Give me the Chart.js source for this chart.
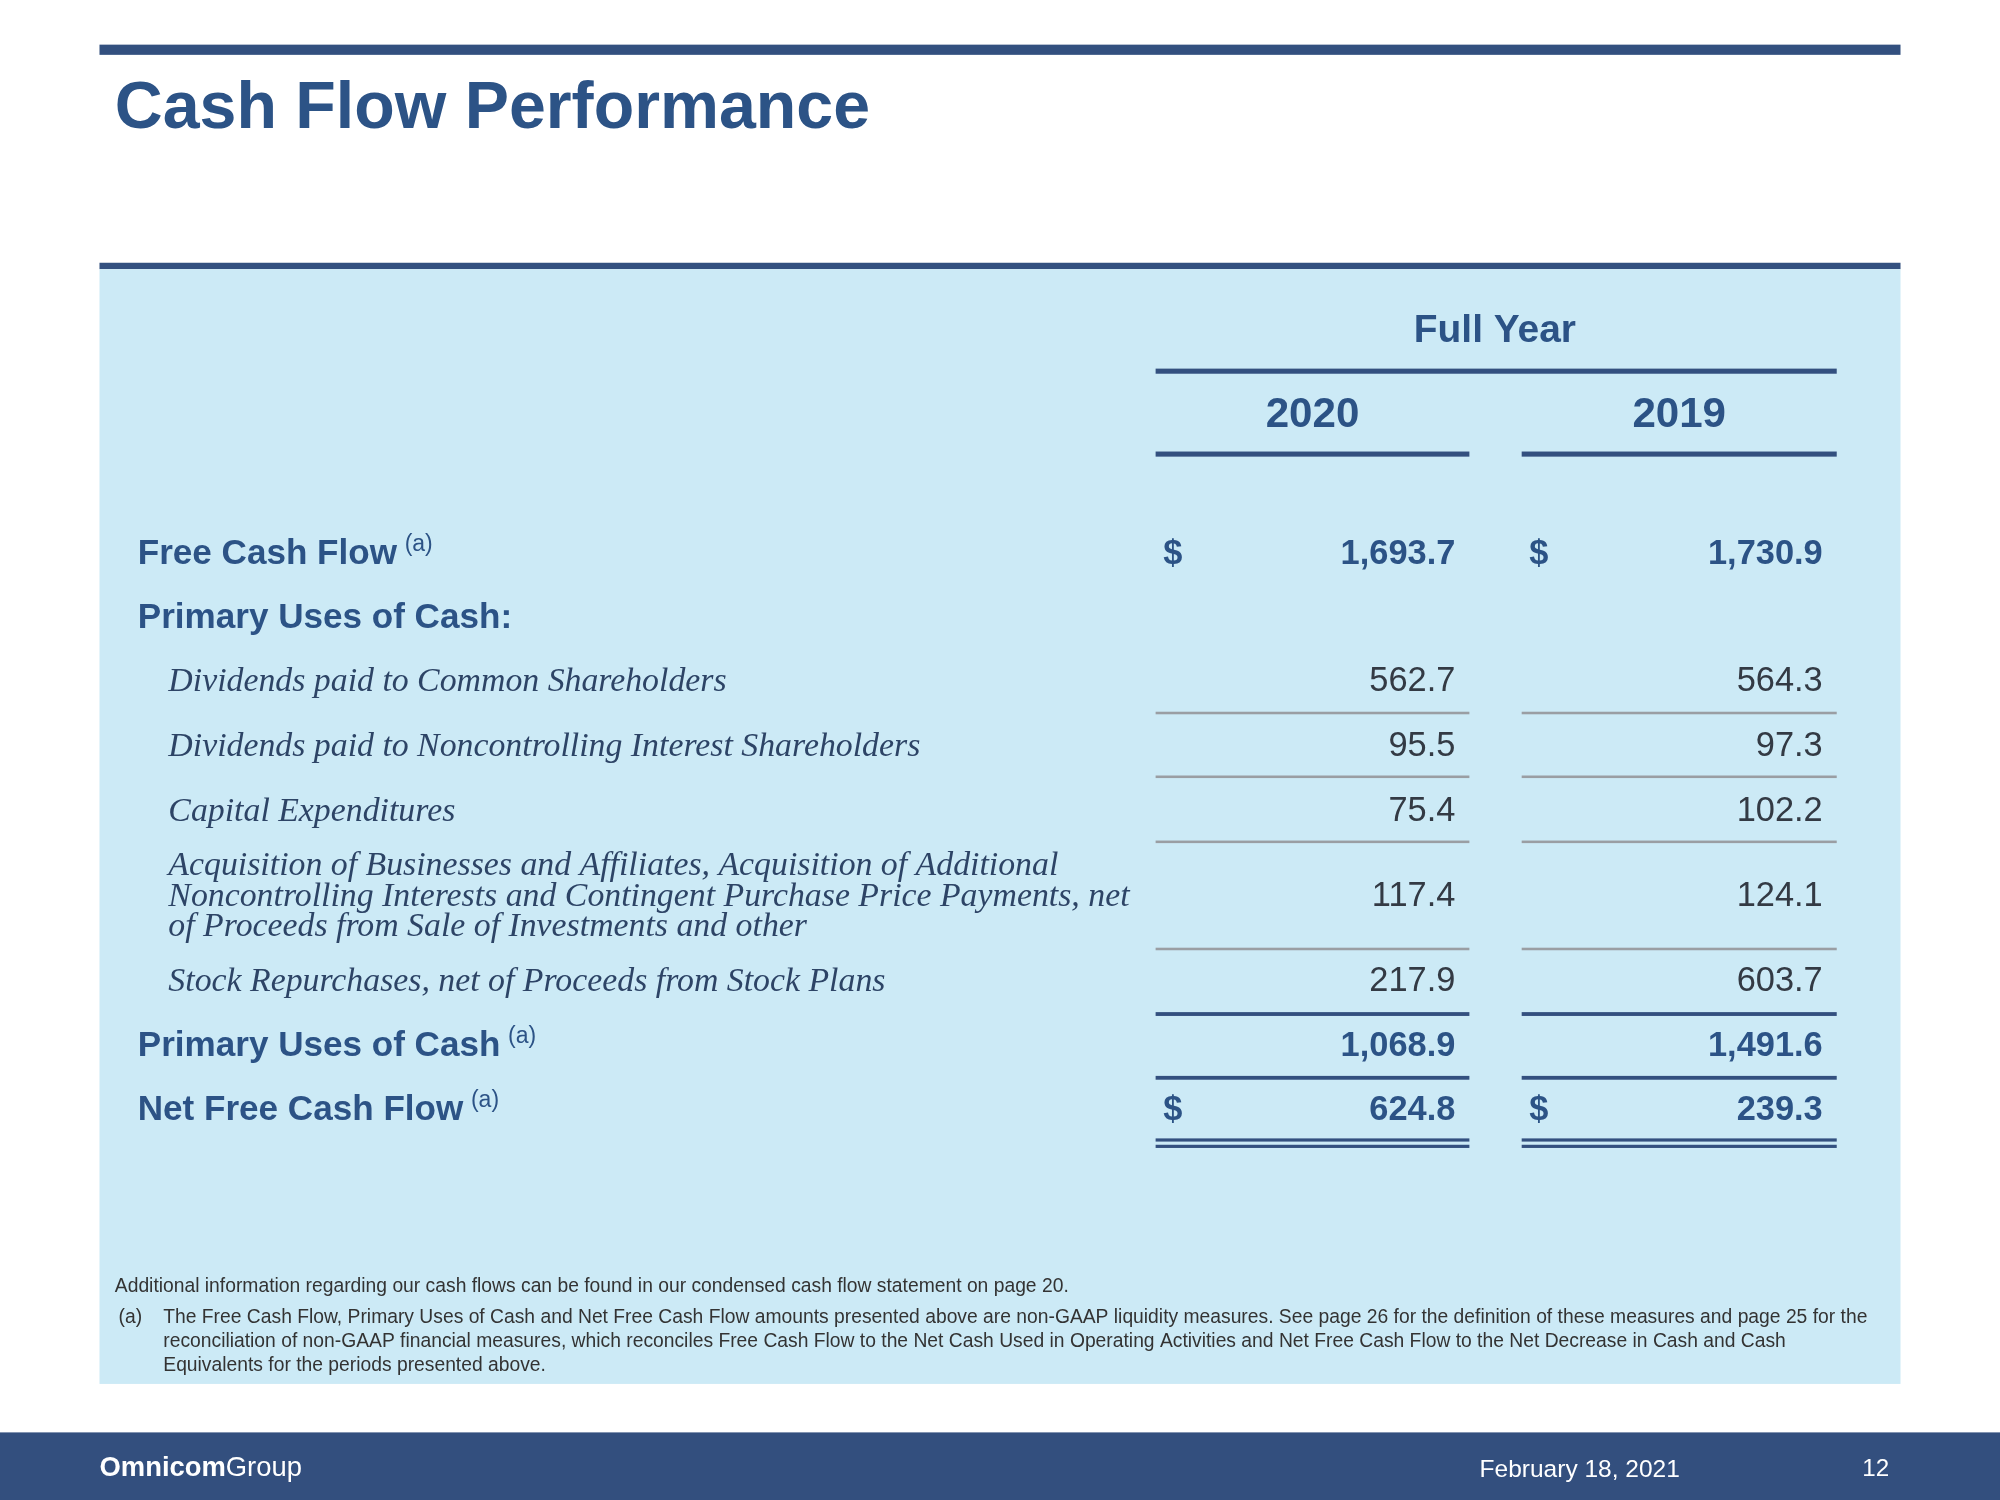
<!DOCTYPE html>
<html>
<head>
<meta charset="utf-8">
<script src="https://cdn.jsdelivr.net/npm/chart.js@4"></script>
<style>
  html, body { margin: 0; padding: 0; background: #fff; }
  canvas { display: block; }
</style>
</head>
<body>
<canvas id="page" width="2000" height="1500"></canvas>
<script>
// data
const title = 'Cash Flow Performance';
const groupHeader = 'Full Year';
const years = ['2020', '2019'];
const rowLabels = [
  'Free Cash Flow',
  'Primary Uses of Cash:',
  'Dividends paid to Common Shareholders',
  'Dividends paid to Noncontrolling Interest Shareholders',
  'Capital Expenditures',
  ['Acquisition of Businesses and Affiliates, Acquisition of Additional',
   'Noncontrolling Interests and Contingent Purchase Price Payments, net',
   'of Proceeds from Sale of Investments and other'],
  'Stock Repurchases, net of Proceeds from Stock Plans',
  'Primary Uses of Cash',
  'Net Free Cash Flow'
];
const rowKinds = ['bold', 'bold', 'item', 'item', 'item', 'item', 'item', 'bold', 'bold'];
const rowNotes = ['(a)', '', '', '', '', '', '', '(a)', '(a)'];
const rowDollar = [true, false, false, false, false, false, false, false, true];
const values2020 = ['1,693.7', '', '562.7', '95.5', '75.4', '117.4', '217.9', '1,068.9', '624.8'];
const values2019 = ['1,730.9', '', '564.3', '97.3', '102.2', '124.1', '603.7', '1,491.6', '239.3'];
const footnoteIntro = 'Additional information regarding our cash flows can be found in our condensed cash flow statement on page 20.';
const footnoteA = [
  'The Free Cash Flow, Primary Uses of Cash and Net Free Cash Flow amounts presented above are non-GAAP liquidity measures. See page 26 for the definition of these measures and page 25 for the',
  'reconciliation of non-GAAP financial measures, which reconciles Free Cash Flow to the Net Cash Used in Operating Activities and Net Free Cash Flow to the Net Decrease in Cash and Cash',
  'Equivalents for the periods presented above.'
];
const footerDate = 'February 18, 2021';
const footerPage = '12';

// layout (slide units, 1568 x 1176)
const rowY = [442, 492, 542, 593, 644, 710, 777, 828, 878];
const ruleBelow = [null, null, 559, 609, 660, 744, 795, 845, 894];
const ruleKind  = [null, null, 'gray', 'gray', 'gray', 'gray', 'blue', 'blue', 'double'];
const colL = [906, 1193], colR = [1152, 1440];
const BLUE = '#2c5386', DARK = '#333a44', NAVY = '#33507f';
const SANS = '"Liberation Sans", Arial, sans-serif';
const SERIF = '"Liberation Serif", "DejaVu Serif", serif';

const slide = {
  id: 'slide',
  afterDraw(chart) {
    const { ctx, scales: { x, y } } = chart;
    const k = (x.getPixelForValue(1568) - x.getPixelForValue(0)) / 1568;
    const X = v => x.getPixelForValue(v), Y = v => y.getPixelForValue(v);
    const rect = (x0, y0, x1, y1, c) => { ctx.fillStyle = c; ctx.fillRect(X(x0), Y(y0), X(x1) - X(x0), Y(y1) - Y(y0)); };
    const text = (s, px, py, font, size, color, align) => {
      ctx.font = font.replace('@', (size * k).toFixed(1) + 'px');
      ctx.fillStyle = color; ctx.textAlign = align || 'left'; ctx.textBaseline = 'alphabetic';
      ctx.fillText(s, X(px), Y(py));
      return ctx.measureText(s).width / k;
    };
    ctx.save();
    rect(78, 35, 1490, 43, NAVY);
    text(title, 90, 100, 'bold @ ' + SANS, 52, BLUE);
    rect(78, 206, 1490, 211, NAVY);
    rect(78, 211, 1490, 1085, '#cceaf6');
    text(groupHeader, 1172, 268, 'bold @ ' + SANS, 30.5, BLUE, 'center');
    rect(906, 289, 1440, 293, NAVY);
    years.forEach((yr, i) => {
      text(yr, (colL[i] + colR[i]) / 2, 335, 'bold @ ' + SANS, 33, BLUE, 'center');
      rect(colL[i], 354, colR[i], 358, NAVY);
    });
    rowLabels.forEach((lab, r) => {
      const by = rowY[r];
      if (rowKinds[r] === 'bold') {
        const w = text(lab, 108, by, 'bold @ ' + SANS, 27.5, BLUE);
        if (rowNotes[r]) text(rowNotes[r], 108 + w + 6, by - 10, '@ ' + SANS, 18, BLUE);
      } else {
        const lines = Array.isArray(lab) ? lab : [lab];
        const y0 = by - (lines.length - 1) * 12;
        lines.forEach((l, j) => text(l, 132, y0 + j * 24, 'italic @ ' + SERIF, 26.5, '#2d4466'));
      }
      [values2020, values2019].forEach((vals, c) => {
        const bold = rowKinds[r] === 'bold';
        if (vals[r]) text(vals[r], colR[c] - 11, by, (bold ? 'bold ' : '') + '@ ' + SANS, 27, bold ? BLUE : DARK, 'right');
        if (rowDollar[r]) text('$', colL[c] + 6, by, 'bold @ ' + SANS, 27, BLUE);
        const ry = ruleBelow[r];
        if (ry) {
          const kd = ruleKind[r];
          if (kd === 'gray') rect(colL[c], ry - 1, colR[c], ry + 1, '#9a9ea3');
          else if (kd === 'blue') rect(colL[c], ry - 1.5, colR[c], ry + 1.5, NAVY);
          else { rect(colL[c], ry - 1.5, colR[c], ry + 1, NAVY); rect(colL[c], ry + 3.5, colR[c], ry + 6, NAVY); }
        }
      });
    });
    text(footnoteIntro, 90, 1013, '@ ' + SANS, 15.1, '#333');
    text('(a)', 93, 1037, '@ ' + SANS, 15.1, '#333');
    footnoteA.forEach((l, j) => text(l, 128, 1037 + j * 19, '@ ' + SANS, 15.1, '#333'));
    rect(0, 1123, 1568, 1176, '#334f7e');
    const w = text('Omnicom', 78, 1157, 'bold @ ' + SANS, 21.5, '#fff');
    text('Group', 78 + w, 1157, '@ ' + SANS, 21.5, '#fff');
    text(footerDate, 1160, 1158, '@ ' + SANS, 19.2, '#fff');
    text(footerPage, 1460, 1157, '@ ' + SANS, 19, '#fff');
    ctx.restore();
  }
};

new Chart(document.getElementById('page'), {
  type: 'scatter',
  data: { datasets: [{ data: [], pointRadius: 0 }] },
  options: {
    responsive: false, animation: false, devicePixelRatio: 1,
    layout: { padding: 0 },
    plugins: { legend: { display: false }, tooltip: { enabled: false } },
    scales: {
      x: { type: 'linear', min: 0, max: 1568, display: false },
      y: { type: 'linear', min: 0, max: 1176, reverse: true, display: false }
    }
  },
  plugins: [slide]
});
</script>
</body>
</html>
